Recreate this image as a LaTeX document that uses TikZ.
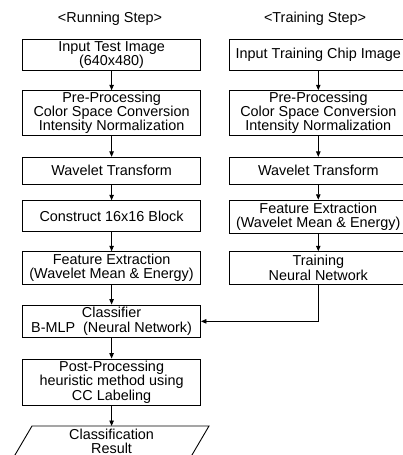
\documentclass[tikz,border=0pt]{standalone}
\usepackage{fontspec}
\setmainfont{Liberation Sans}
\usetikzlibrary{arrows.meta}
\tikzset{
  box/.style={draw=black, line width=0.9pt, inner sep=0pt, align=center,
    font=\fontsize{14.4pt}{14.3pt}\selectfont, text=black},
  title/.style={inner sep=0pt, font=\fontsize{14.4pt}{14.3pt}\selectfont, text=black},
  lbox/.style={box, minimum width=177.8pt},
  rbox/.style={box, minimum width=178pt},
  arr/.style={draw=black, line width=0.9pt, -{Triangle[length=5.5pt,width=4.5pt]}}
}
\begin{document}
\begin{tikzpicture}[x=1pt,y=-1pt]
\useasboundingbox (0,0) rectangle (403,455);
\clip (0,0) rectangle (403,455);
% titles
\node[title] (tl) at (110,18.3) {<Running Step>};
\node[title] (tr) at (315,18.3) {<Training Step>};
% left column
\node[lbox, minimum height=31pt] (l1) at (111.6,54.8) {Input Test Image\\(640x480)};
\node[lbox, minimum height=44.3pt] (l2) at (111.6,112.85) {Pre-Processing\\Color Space Conversion\\Intensity Normalization};
\node[lbox, minimum height=26.7pt] (l3) at (111.6,170.65) {Wavelet Transform};
\node[lbox, minimum height=30.8pt] (l4) at (111.6,216.1) {Construct 16x16 Block};
\node[lbox, minimum height=32.3pt] (l5) at (111.6,267.85) {Feature Extraction\\(Wavelet Mean \& Energy)};
\node[lbox, minimum height=32.7pt] (l6) at (111.6,321.35) {Classifier\\B-MLP\ \ (Neural Network)};
\node[lbox, minimum height=46pt] (l7) at (111.6,382) {Post-Processing\\heuristic method using\\CC Labeling};
% result parallelogram
\draw[line width=0.9pt] (32,426) -- (209,426) -- (190.2,458) -- (13.2,458) -- cycle;
\node[title, align=center] (res) at (111.6,441) {Classification\\Result};
\coordinate (restop) at (111.6,426);
% right column
\node[rbox, minimum height=31pt] (r1) at (318.3,54.8) {Input Training Chip Image};
\node[rbox, minimum height=44.3pt] (r2) at (318.3,112.85) {Pre-Processing\\Color Space Conversion\\Intensity Normalization};
\node[rbox, minimum height=26.7pt] (r3) at (318.3,170.65) {Wavelet Transform};
\node[rbox, minimum height=33pt] (r4) at (318.3,216.7) {Feature Extraction\\(Wavelet Mean \& Energy)};
\node[rbox, minimum height=32.3pt] (r5) at (318.3,267.85) {Training\\Neural Network};
% arrows
\draw[arr] (l1) -- (l2);
\draw[arr] (l2) -- (l3);
\draw[arr] (l3) -- (l4);
\draw[arr] (l4) -- (l5);
\draw[arr] (l5) -- (l6);
\draw[arr] (l6) -- (l7);
\draw[arr] (l7) -- (restop);
\draw[arr] (r1) -- (r2);
\draw[arr] (r2) -- (r3);
\draw[arr] (r3) -- (r4);
\draw[arr] (r4) -- (r5);
\draw[arr] (r5.south) |- (l6.east);
\end{tikzpicture}
\end{document}
